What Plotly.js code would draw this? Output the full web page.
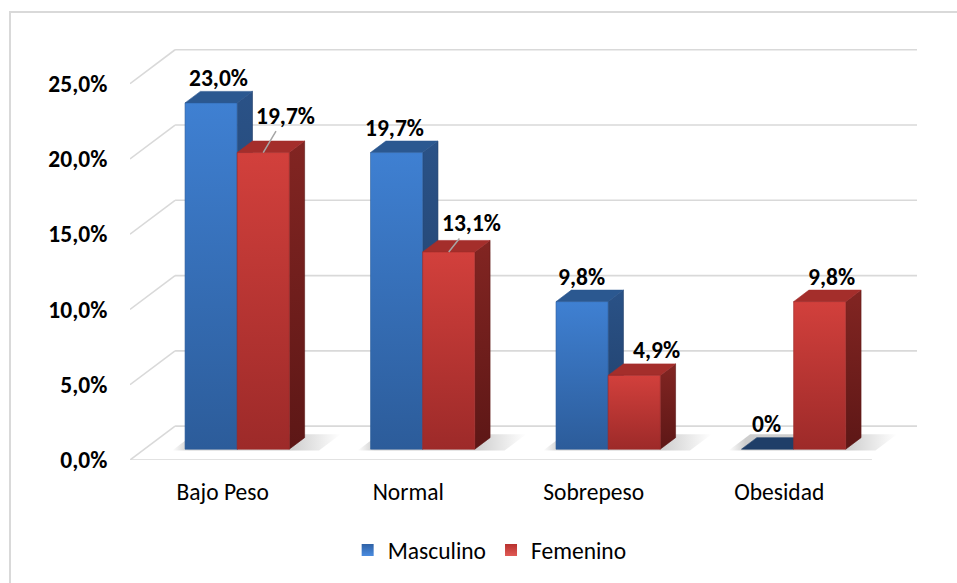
<!DOCTYPE html>
<html>
<head>
<meta charset="utf-8">
<script src="https://cdn.plot.ly/plotly-3.0.1.min.js"></script>
<style>
  html, body { margin: 0; padding: 0; background: #ffffff; }
  #wrap { position: relative; width: 957px; height: 583px; overflow: hidden; }
  #chart { position: absolute; left: 0; top: 0; width: 957px; height: 583px; }
  #frame { position: absolute; left: 9px; top: 11px; width: 1200px; height: 900px;
           border: 2px solid #d9d9d9; pointer-events: none; }
</style>
</head>
<body>
<div id="wrap">
  <div id="frame"></div>
  <div id="chart"></div>
</div>
<script>
// ---- data ----
const categories = ['Bajo Peso', 'Normal', 'Sobrepeso', 'Obesidad'];
const masculino  = [23.0, 19.7, 9.8, 0];
const femenino   = [19.7, 13.1, 4.9, 9.8];
const seriesNames = ['Masculino', 'Femenino'];
const yTicks      = [0, 5, 10, 15, 20, 25];
const yTickLabels = ['0,0%', '5,0%', '10,0%', '15,0%', '20,0%', '25,0%'];

// ---- 3-D look: oblique projection in axis units ----
const DX = 0.243, DY = 2.25;     // full floor depth (x units, % units)
const F0 = 0.32, F1 = 0.66;      // depth of bar front / back faces
const BW = 0.281;                // bar width in category units
const X0 = -0.5, X1 = 3.5;       // floor front edge

const FONT = 'Carlito, Lato, "Liberation Sans", sans-serif';
const FS = 23.5;

const styles = [
  { front: ['#2c5c9a', '#3f80d2'], side: ['#203d66', '#2a5287'], top: '#2b5890', flat: '#1f3e68', leg: '#2f62a6', legLight: '#4a8ce0' },
  { front: ['#9d2a29', '#d2403c'], side: ['#5d1716', '#822522'], top: '#a42e2b', flat: '#a9302d', leg: '#b8312e', legLight: '#e05a55' }
];

function closed(pts) {
  return { x: pts.map(p => p[0]).concat([pts[0][0]]), y: pts.map(p => p[1]).concat([pts[0][1]]) };
}
function face(pts, fill, grad, name) {
  const c = closed(pts);
  const t = {
    type: 'scatter', mode: 'lines', x: c.x, y: c.y, fill: 'toself',
    fillcolor: Array.isArray(grad) ? grad[1] : fill,
    line: { width: 0.6, color: Array.isArray(grad) ? grad[0] : fill },
    hoverinfo: 'skip', showlegend: false, name: name
  };
  if (Array.isArray(grad)) {
    t.fillgradient = { type: 'vertical', colorscale: [[0, grad[0]], [1, grad[1]]] };
  }
  return t;
}

const seriesValues = [masculino, femenino];
const traces = [];

// soft floor shadows behind each group
categories.forEach((cat, i) => {
  const xl = i - BW - 0.06, xr = i + BW + 0.17;
  const a0 = (F0 - 0.04), a1 = (F1 + 0.1);
  const pts = [[xl + a0 * DX, a0 * DY], [xr + a0 * DX, a0 * DY], [xr + a1 * DX, a1 * DY], [xl + a1 * DX, a1 * DY]];
  const c = closed(pts);
  traces.push({
    type: 'scatter', mode: 'lines', x: c.x, y: c.y, fill: 'toself',
    fillcolor: 'rgba(0,0,0,0.12)', line: { width: 0 }, hoverinfo: 'skip', showlegend: false,
    fillgradient: { type: 'horizontal', colorscale: [[0, 'rgba(90,90,90,0)'], [0.1, 'rgba(90,90,90,0.3)'], [0.7, 'rgba(90,90,90,0.3)'], [1, 'rgba(90,90,90,0)']] }
  });
});

// bars: side, top and front faces, blue before red in each group
categories.forEach((cat, i) => {
  seriesValues.forEach((vals, s) => {
    const v = vals[i];
    const st = styles[s];
    const xl = i - BW + s * BW, xr = xl + BW;
    const a = F0 * DX, b = F0 * DY, c = F1 * DX, d = F1 * DY;
    if (v > 0) {
      traces.push(face([[xr + a, b], [xr + c, d], [xr + c, d + v], [xr + a, b + v]], null, st.side, seriesNames[s]));
      traces.push(face([[xl + a, b + v], [xr + a, b + v], [xr + c, d + v], [xl + c, d + v]], st.top, null, seriesNames[s]));
      traces.push(face([[xl + a, b], [xr + a, b], [xr + a, b + v], [xl + a, b + v]], null, st.front, seriesNames[s]));
    } else {
      traces.push(face([[xl + a, b], [xr + a, b], [xr + c, d], [xl + c, d]], st.flat, null, seriesNames[s]));
    }
  });
});

// legend entries
seriesNames.forEach((n, s) => {
  traces.push({
    type: 'scatter', mode: 'markers', x: [null], y: [null], name: n, showlegend: true,
    marker: { symbol: 'square', size: 12, color: styles[s].leg,
              gradient: { type: 'vertical', color: styles[s].legLight },
              line: { width: 0 } },
    hoverinfo: 'skip'
  });
});

// grid: left diagonals + back wall lines, and the floor front edge
const shapes = [];
const gridLine = { color: '#d9d9d9', width: 1.6 };
yTicks.forEach(v => {
  shapes.push({ type: 'line', xref: 'x', yref: 'y', x0: X0, y0: v, x1: X0 + DX, y1: v + DY, line: gridLine, layer: 'below' });
  shapes.push({ type: 'line', xref: 'x', yref: 'y', x0: X0 + DX, y0: v + DY, x1: X1 + DX, y1: v + DY, line: gridLine, layer: 'below' });
});
shapes.push({ type: 'line', xref: 'x', yref: 'y', x0: X0, y0: 0, x1: X1, y1: 0, line: gridLine, layer: 'below' });

// value labels (pixel nudges / leader lines per label)
const labelPlacement = [
  [{ dx: 7 }, { dx: -2 }, { dx: -1 }, { dx: -1 }],
  [{ leader: [22, -37] }, { leader: [23, -29] }, { dx: 22 }, { dx: 12 }]
];
function fmt(v) { return v === 0 ? '0%' : v.toFixed(1).replace('.', ',') + '%'; }
const annotations = [];
seriesValues.forEach((vals, s) => {
  vals.forEach((v, i) => {
    const xl = i - BW + s * BW;
    const xc = xl + BW / 2 + F0 * DX;
    const yc = v + F0 * DY;
    const p = labelPlacement[s][i];
    const ann = {
      x: xc, y: yc, xref: 'x', yref: 'y', text: fmt(v),
      font: { family: FONT, size: FS, color: '#000000', weight: 'bold' },
      xanchor: 'center', yanchor: 'middle'
    };
    if (p.leader) {
      Object.assign(ann, { showarrow: true, arrowhead: 0, arrowwidth: 1.5, arrowcolor: '#a6a6a6',
        ax: p.leader[0], ay: p.leader[1], standoff: 0, startstandoff: 0 });
    } else {
      Object.assign(ann, { showarrow: false, xshift: p.dx, yshift: 25 });
    }
    annotations.push(ann);
  });
});

const layout = {
  width: 957, height: 583,
  margin: { l: 130, r: 40, t: 46, b: 122 },
  paper_bgcolor: 'rgba(0,0,0,0)', plot_bgcolor: 'rgba(0,0,0,0)',
  font: { family: FONT, color: '#000000' },
  xaxis: {
    range: [X0, X1 + DX], showgrid: false, zeroline: false, showline: false,
    tickvals: categories.map((c, i) => i), ticktext: categories,
    ticks: 'outside', ticklen: 11, tickcolor: 'rgba(0,0,0,0)',
    tickfont: { family: FONT, size: FS, color: '#000000' }, fixedrange: true
  },
  yaxis: {
    range: [0, 27.5], showgrid: false, zeroline: false, showline: false,
    tickvals: yTicks, ticktext: yTickLabels,
    ticks: 'outside', ticklen: 17, tickcolor: 'rgba(0,0,0,0)',
    tickfont: { family: FONT, size: FS, color: '#000000', weight: 'bold' }, fixedrange: true
  },
  shapes: shapes,
  annotations: annotations,
  showlegend: true,
  legend: {
    orientation: 'h', x: 0.457, xanchor: 'center', y: -0.215, yanchor: 'middle',
    font: { family: FONT, size: FS, color: '#000000' }, itemwidth: 30, bgcolor: 'rgba(0,0,0,0)',
    traceorder: 'normal'
  }
};

Plotly.newPlot('chart', traces, layout, { displayModeBar: false, staticPlot: true });
</script>
</body>
</html>
